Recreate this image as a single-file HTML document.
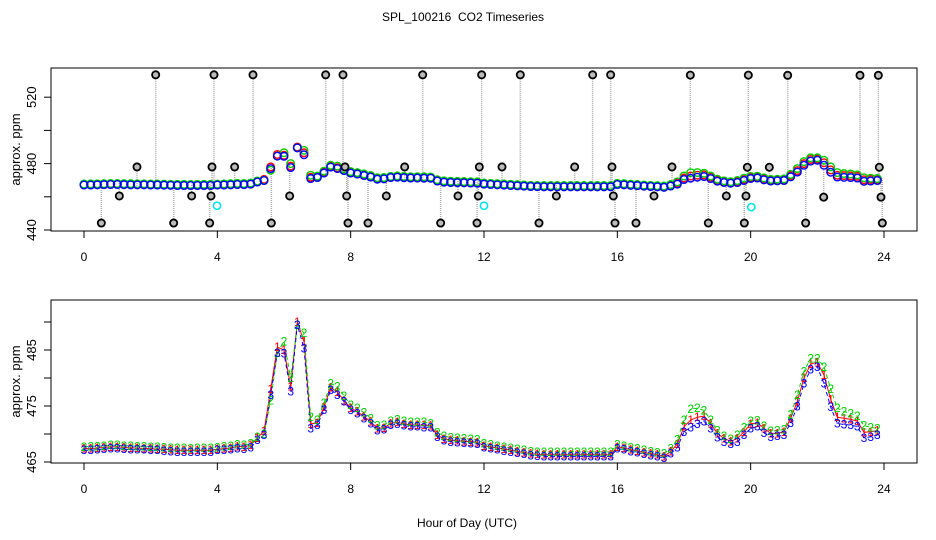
<!DOCTYPE html>
<html><head><meta charset="utf-8"><style>
html,body{margin:0;padding:0;background:#fff;}
svg{display:block;font-family:"Liberation Sans",sans-serif;}
</style></head><body>
<svg id="chart" width="936" height="540" viewBox="0 0 936 540" xmlns="http://www.w3.org/2000/svg">
<rect width="936" height="540" fill="#fff"/>
<text x="463" y="21" font-size="12" text-anchor="middle" style="white-space:pre">SPL_100216  CO2 Timeseries</text>
<g id="top"></g>
<g id="bot"></g>
<text x="467" y="527" font-size="12" text-anchor="middle">Hour of Day (UTC)</text>
</svg>
<script>
const seriesStartHour = 0;
const seriesStepHour = 0.2;
const series1 = [467.4,467.4,467.5,467.6,467.7,467.7,467.6,467.5,467.5,467.4,467.4,467.3,467.3,467.2,467.1,467.1,467.1,467.1,467.1,467.1,
467.3,467.4,467.5,467.8,467.7,468.0,469.3,470.5,478,485.5,485,478.5,490,486.5,471.8,472,474.8,478.3,477.5,476,
474.6,474,473.1,472.2,471,471.1,471.9,472.1,471.8,471.6,471.6,471.6,471.5,469.8,469.1,468.9,468.8,468.7,468.6,468.5,
467.9,467.7,467.5,467.3,467.1,466.9,466.7,466.5,466.4,466.3,466.3,466.3,466.3,466.3,466.3,466.3,466.3,466.3,466.3,466.3,
467.7,467.5,467.2,467.0,466.7,466.5,466.3,466.0,466.9,468.2,471.3,472.5,473.0,473.2,471.9,470.1,469.2,468.7,469.2,470.4,
471.8,472,471,470.1,470.1,470.4,472.8,475.8,480,482.5,482.8,480.5,476.2,473,472.8,472.6,472.3,470.3,470.4,470.6];
const series2 = [467.7,467.8,467.8,467.9,468.0,468.0,467.9,467.9,467.8,467.8,467.7,467.7,467.6,467.5,467.5,467.5,467.4,467.5,467.5,467.5,
467.6,467.8,467.9,468.1,468.0,468.3,469.5,470.0,476,484.5,486.5,480,489.5,488,473,472.5,475.5,479,478.5,476.8,
475.2,474.6,473.8,472.8,471.5,471.6,472.3,472.6,472.3,472.1,472.1,472.1,471.9,470.3,469.6,469.4,469.3,469.2,469.1,469.0,
468.3,468.1,467.9,467.7,467.5,467.3,467.1,466.9,466.8,466.8,466.8,466.8,466.8,466.8,466.8,466.8,466.8,466.8,466.8,466.8,
468.1,467.9,467.6,467.4,467.1,466.9,466.7,466.5,467.4,469,472.5,474.5,474.6,474.2,472.5,470.6,469.6,469.1,469.8,471.2,
472.3,472.4,471.4,470.5,470.6,470.8,473.5,477,481.2,483.5,483.5,482,478,474.6,474,473.7,473.2,471.5,471.2,471.0];
const series3 = [467.1,467.1,467.2,467.3,467.4,467.4,467.3,467.2,467.2,467.2,467.1,467.1,467.0,466.9,466.8,466.8,466.8,466.8,466.8,466.8,
467.1,467.1,467.2,467.4,467.3,467.6,468.9,469.8,477,484.5,484.4,477.6,489.5,485.3,471,471.6,474.3,477.9,477,475.8,
474.3,473.7,472.8,471.9,470.6,470.8,471.6,471.8,471.5,471.3,471.3,471.2,471.2,469.5,468.8,468.6,468.5,468.4,468.3,468.2,
467.6,467.4,467.2,467.0,466.8,466.6,466.4,466.2,466.1,466.0,466.0,466.0,466.0,466.0,466.0,466.0,466.0,466.0,466.0,466.0,
467.4,467.2,466.9,466.7,466.4,466.2,466.0,465.7,466.5,467.6,470.4,471.2,471.8,472.2,471.0,469.4,468.6,468.2,468.6,469.8,
471.0,471.3,470.2,469.5,469.6,469.8,472.0,474.9,479,481.5,482.0,479,474.8,471.9,471.7,471.6,471.3,469.3,469.5,469.8];
const outlierHours = [2.15,3.9,5.07,7.25,7.77,10.16,11.93,13.09,15.26,15.8,18.19,19.93,21.11,23.28,23.83,
1.59,3.84,4.52,7.83,9.62,11.86,12.54,14.72,15.84,17.64,19.9,20.56,23.86,
1.06,3.23,3.81,6.17,7.88,9.07,11.22,11.83,14.17,15.88,17.1,19.27,19.86,22.19,23.91,
0.52,2.69,3.77,5.62,7.92,8.52,10.7,11.79,13.65,15.93,16.56,18.73,19.81,21.65,23.95];
const outlierValues = [533.5,533.5,533.5,533.5,533.5,533.5,533.5,533.5,533.5,533.5,533.3,533.3,533.2,533.2,533.2,
478,478,478,478,478,478,478,478,478,478,477.8,477.8,477.8,
460.5,460.5,460.5,460.5,460.5,460.5,460.5,460.5,460.5,460.5,460.5,460.5,460.5,459.8,459.8,
444.2,444.2,444.2,444.2,444.2,444.2,444.2,444.2,444.2,444.2,444.2,444.2,444.2,444.2,444.2];
const calHours = [3.99,12.0,20.02];
const calValues = [454.6,454.6,453.8];
const xTicks = [0,4,8,12,16,20,24];
const topYTicks = [440,460,480,500,520];
const topYLabels = ["440","","480","","520"];
const botYTicks = [465,470,475,480,485,490];
const botYLabels = ["465","","475","","485",""];

const NS = "http://www.w3.org/2000/svg";
const L = 51, R = 917;
const xS = h => 84 + h * 33.333;
const topY = v => 230 - (v - 440) * 1.66;
const botY = v => 462 - (v - 465) * 5.6;
function mk(tag, attrs, parent, txt) {
  const e = document.createElementNS(NS, tag);
  for (const k in attrs) e.setAttribute(k, attrs[k]);
  if (txt !== undefined) e.textContent = txt;
  parent.appendChild(e);
  return e;
}
const hourAt = i => seriesStartHour + i * seriesStepHour;
function interp(arr, h) {
  const f = (h - seriesStartHour) / seriesStepHour;
  const i = Math.max(0, Math.min(arr.length - 2, Math.floor(f)));
  const t = Math.max(0, Math.min(1, f - i));
  return arr[i] * (1 - t) + arr[i + 1] * t;
}
function axes(g, top, bottom, yFn, yt, yl, name) {
  const box = mk('rect', {x: L, y: top, width: R - L, height: bottom - top, fill: 'none', stroke: '#000', 'stroke-width': 1}, g);
  
  
  xTicks.forEach(t => {
    const x = xS(t);
    const tk = mk('line', {x1: x, x2: x, y1: bottom, y2: bottom + 7, stroke: '#000'}, g);
    
    
    const lb = mk('text', {x: x, y: bottom + 30, 'font-size': 12, 'text-anchor': 'middle'}, g, String(t));
    
    
  });
  yt.forEach((t, i) => {
    const y = yFn(t);
    const tk = mk('line', {x1: L - 7, x2: L, y1: y, y2: y, stroke: '#000'}, g);
    
    
    if (yl[i]) {
      const lb = mk('text', {x: 36, y: y, 'font-size': 13, 'text-anchor': 'middle', transform: `rotate(-90 36 ${y})`}, g, yl[i]);
      
      
    }
  });
  const yc = (top + bottom) / 2;
  const yt2 = mk('text', {x: 20, y: yc, 'font-size': 13, 'text-anchor': 'middle', transform: `rotate(-90 20 ${yc})`}, g, 'approx. ppm');
  
  
}
const colors = ['#ff0000', '#00cd00', '#0000ff'];
const allSeries = [series1, series2, series3];

// TOP PANEL
const gt = document.getElementById('top');


const ct = mk('clipPath', {id: 'ct'}, gt);
mk('rect', {x: L, y: 68, width: R - L, height: 163}, ct);
const pt = mk('g', {'clip-path': 'url(#ct)'}, gt);
outlierHours.forEach((h, i) => {
  const v = outlierValues[i];
  const s = interp(series3, h);
  const ln = mk('line', {x1: xS(h), x2: xS(h), y1: topY(v), y2: topY(s) + (v < s ? -2 : 4), stroke: '#aaa', 'stroke-width': 1.5, 'stroke-dasharray': '1 1'}, pt);
  
  
});
allSeries.forEach((arr, si) => {
  arr.forEach((v, i) => {
    const c = mk('circle', {cx: xS(hourAt(i)), cy: topY(v), r: 3.8, fill: 'none', stroke: colors[si], 'stroke-width': 1.4}, pt);
    
    
  });
});
outlierHours.forEach((h, i) => {
  const c = mk('circle', {cx: xS(h), cy: topY(outlierValues[i]), r: 3.6, fill: '#bbb', stroke: '#000', 'stroke-width': 1.8}, pt);
  
  
});
calHours.forEach((h, i) => {
  const c = mk('circle', {cx: xS(h), cy: topY(calValues[i]), r: 3.6, fill: 'none', stroke: '#00e5ee', 'stroke-width': 1.6}, pt);
  
  
});
axes(gt, 68, 231, topY, topYTicks, topYLabels, 'top');

// BOTTOM PANEL
const gb = document.getElementById('bot');


const cp = mk('clipPath', {id: 'cb'}, gb);
mk('rect', {x: L, y: 300, width: R - L, height: 163}, cp);
const pb = mk('g', {'clip-path': 'url(#cb)'}, gb);
const dashes = ['none', '4 3', '4 3'];
allSeries.forEach((arr, si) => {
  const d = arr.map((v, i) => (i ? 'L' : 'M') + xS(hourAt(i)).toFixed(1) + ' ' + botY(v).toFixed(1)).join(' ');
  const p = mk('path', {d: d, fill: 'none', stroke: colors[si], 'stroke-width': 1, 'stroke-dasharray': dashes[si]}, pb);
  
  
});
allSeries.forEach((arr, si) => {
  arr.forEach((v, i) => {
    const t = mk('text', {x: xS(hourAt(i)), y: botY(v) + 4, 'font-size': 12, 'text-anchor': 'middle', fill: colors[si]}, pb, String(si + 1));
    
    
  });
});
axes(gb, 300, 463, botY, botYTicks, botYLabels, 'bottom');
</script>
</body></html>
